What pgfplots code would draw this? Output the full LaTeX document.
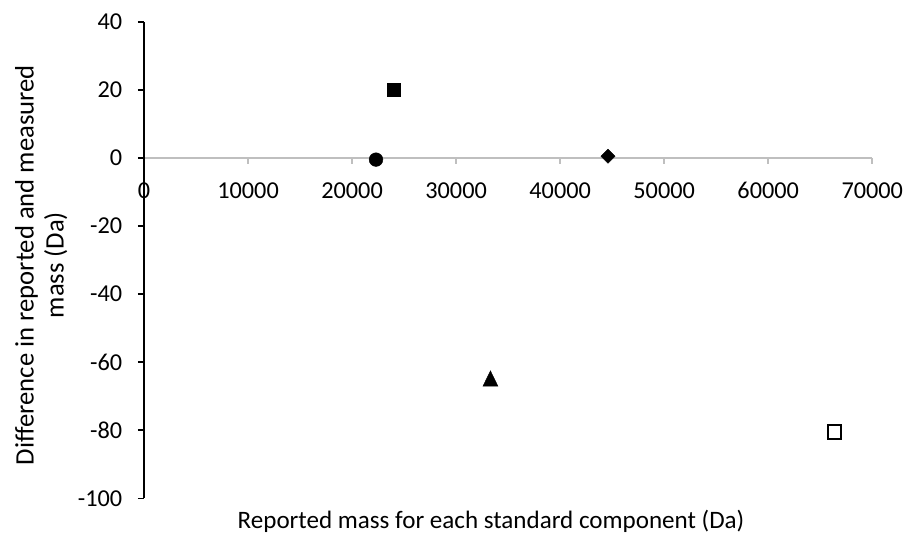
\documentclass[border=0pt]{standalone}
\usepackage{fontspec}
\setmainfont{Carlito}
\usepackage{pgfplots}
\pgfplotsset{compat=1.18}
\definecolor{axgray}{HTML}{BFBFBF}
\begin{document}
\begin{tikzpicture}
\begin{axis}[
  scale only axis,
  width=546.2pt, height=357.5pt,
  xmin=0, xmax=70000, ymin=-100, ymax=40,
  axis x line=middle, axis y line=left,
  x axis line style={-, draw=axgray, line width=1.2pt},
  y axis line style={-, draw=black, line width=1.2pt},
  hide obscured x ticks=false, hide obscured y ticks=false,
  scaled x ticks=false, scaled y ticks=false,
  xtick={0,10000,20000,30000,40000,50000,60000,70000},
  xticklabels={0,10000,20000,30000,40000,50000,60000,70000},
  ytick={-100,-80,-60,-40,-20,0,20,40},
  yticklabels={-100,-80,-60,-40,-20,0,20,40},
  tick align=outside, major tick length=4.5pt,
  x tick style={draw=axgray, line width=1.2pt},
  y tick style={draw=black, line width=1.2pt},
  tick label style={font=\fontsize{18.2}{22.5}\selectfont},
  xticklabel style={anchor=north, text height=11.8pt, text depth=0pt, yshift=-10.5pt},
  yticklabel style={anchor=east, xshift=-8.3pt},
  xlabel={Reported mass for each standard component (Da)},
  xlabel style={font=\fontsize{18.8}{22.5}\selectfont, at={(rel axis cs:0.4765,-0.0629)}, anchor=base},
  ylabel={Difference in reported and measured\\mass (Da)},
  ylabel style={font=\fontsize{20}{22.5}\selectfont, at={(rel axis cs:-0.141,0.4895)}, anchor=center, align=center},
  clip=false,
]
\addplot[only marks, mark=*, mark size=5.1pt, mark options={fill=black, draw=black}] coordinates {(22300,-0.5)};
\addplot[only marks, mark=square*, mark size=5.0pt, mark options={fill=black, draw=black}] coordinates {(24000,20.1)};
\addplot[only marks, mark=triangle*, mark size=7.6pt, mark options={fill=black, draw=black, xscale=0.845, yshift=-1.9pt}] coordinates {(33300,-64.8)};
\addplot[only marks, mark=square*, mark size=3.7pt, mark options={fill=black, draw=black, rotate=45}] coordinates {(44600,0.5)};
\addplot[only marks, mark=square, mark size=4.9pt, mark options={fill=white, draw=black, line width=1.5pt}] coordinates {(66400,-80.5)};
\coordinate (bl) at (rel axis cs:0,0);
\coordinate (tr) at (rel axis cs:1,1);
\end{axis}
\pgfresetboundingbox
\path ([shift={(-108pt,-26pt)}]bl) rectangle ([shift={(26.8pt,16.3pt)}]tr);
\end{tikzpicture}
\end{document}
